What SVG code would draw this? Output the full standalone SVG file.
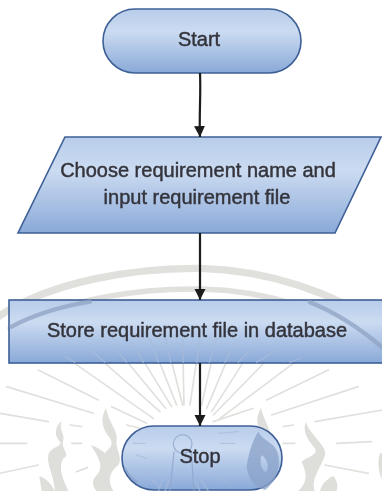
<svg xmlns="http://www.w3.org/2000/svg" width="382" height="491" viewBox="0 0 382 491">
<style>
.node{fill:url(#g);stroke:#3d5f96;stroke-width:1.6}
.t{font-family:"Liberation Sans",Arial,sans-serif;font-size:20px;fill:#34343c;text-anchor:middle;stroke:#34343c;stroke-width:.45}
.c{stroke:#1c1c1c;stroke-width:2.2;fill:none;marker-end:url(#a)}
.w{fill:none;stroke:#e0e0dd;stroke-linecap:round}
.f{fill:#dededb;stroke:none}
</style>
<defs>
<linearGradient id="g" x1="0" y1="0" x2="0" y2="1">
<stop offset="0" stop-color="#b8cdea"/><stop offset=".35" stop-color="#cbdbf1"/><stop offset="1" stop-color="#8aa9d8"/>
</linearGradient>
<marker id="a" markerUnits="userSpaceOnUse" markerWidth="14" markerHeight="12" refX="11" refY="5.5" orient="auto">
<path d="M0 0L11 5.5L0 11z" fill="#1c1c1c"/>
</marker>
<filter id="b" x="-5%" y="-5%" width="110%" height="110%"><feGaussianBlur stdDeviation=".5"/></filter>
</defs>
<rect width="382" height="491" fill="#fff"/>
<g filter="url(#b)">
<g id="watermark-back" class="w" transform="translate(0 245) scale(.3333)">
<path d="M-5 215C150 110 400 68 600 70C800 75 1000 140 1160 250" stroke-width="22"/>
<path d="M30 250C200 160 420 130 600 132C800 135 1000 200 1160 310" stroke-width="16"/>
<g stroke-width="5">
<path d="M115 375L295 465M20 425L280 505M0 505L145 530M985 375L800 465M1075 425L815 510M1147 495L945 530M0 595L80 595M1010 595L1115 590M0 685L115 660M975 660L1105 685M335 485L440 535M380 540L420 550M760 490L640 530M850 545L880 540M210 540L245 545M215 595L245 595M850 595L885 595M230 680L262 668M195 335L460 520M270 315L480 500M340 300L497 490M395 290L515 485M450 280L530 480M497 280L548 480M548 280L552 480M600 280L570 480M650 280L605 480M705 290L620 490M760 305L635 500M830 315L640 510M900 340L660 520"/>
</g>
</g>
<g id="flames" class="f" transform="translate(0 390) scale(.3333)">
<path d="M185 92C160 115 165 140 180 155C190 170 150 170 145 195C140 225 160 250 165 303L205 303C185 260 175 230 190 205C215 195 180 175 190 150C195 130 175 120 185 92Z"/>
<path d="M118 258C140 265 155 285 165 303L125 303Z"/>
<path d="M318 55C300 85 305 115 330 145C345 170 320 180 315 190C300 175 285 170 272 165C295 200 310 225 295 250C280 265 270 280 290 303L340 303C320 270 330 245 355 225C370 205 345 175 350 150C355 125 325 95 318 55Z"/>
<path d="M783 55C765 85 770 110 790 130L810 130C805 105 790 85 783 55Z"/>
<path d="M918 95C905 125 925 150 945 175C955 195 925 200 905 215C915 240 930 270 895 303L945 303C930 270 965 230 975 195C985 170 925 130 918 95Z"/>
<path d="M1000 258C975 270 965 285 960 303L1010 303C1015 285 1010 270 1000 258Z"/>
<path d="M1140 190C1132 210 1135 240 1145 270L1147 190Z"/>
</g>
<g id="start"><rect class="node" x="103" y="9" width="198" height="64" rx="32"/><text class="t" x="199" y="46">Start</text></g>
<g id="input"><path class="node" d="M65 137H381L335 233H18z"/><text class="t" x="198" y="177">Choose requirement name and</text><text class="t" x="197" y="204">input requirement file</text></g>
<g id="store"><rect class="node" x="9" y="300" width="376" height="63"/></g>
<g id="stop"><rect class="node" x="122" y="426" width="160" height="64" rx="32"/></g>
<g id="watermark-front" class="w" transform="translate(0 245) scale(.3333)" opacity=".75">
<path d="M35 245C100 210 180 185 270 170" stroke="#8fa3c4" stroke-width="13"/>
<path d="M930 172C1000 200 1080 250 1150 310" stroke="#8fa3c4" stroke-width="13"/>
<g stroke="#a9bcdb" stroke-width="4">
<path d="M195 335L225 352M270 315L315 352M340 300L380 352M395 290L430 352M450 280L475 352M497 280L512 352M548 280L550 352M600 280L590 352M650 280L628 352M705 290L675 352M760 305L715 352M830 315L770 352M900 340L870 352"/>
<path d="M400 595L435 595M410 630L440 640M420 670L455 690M450 700L480 725M490 700L475 738M510 700L495 738M660 595L705 595M655 565L715 560M640 680L675 710M600 700L625 738M580 700L600 738"/>
</g>
<circle cx="548" cy="597" r="28" stroke="#8fa6cc" stroke-width="4"/>
<path d="M522 620L510 738M574 620L582 738" stroke="#8fa6cc" stroke-width="4"/>
<path d="M775 560C755 590 745 630 740 665C745 700 760 725 795 735C830 710 845 660 832 620C822 590 790 590 775 560ZM785 630C778 650 782 672 798 682C808 665 805 645 785 630Z" fill="#8aa2c9" fill-rule="evenodd" stroke="none"/>
<path d="M375 670C385 690 395 700 410 710" stroke="#8aa2c9" stroke-width="6"/>
</g>
<g id="connectors">
<path class="c" d="M200 73C201 95 199 115 200 137"/>
<path class="c" d="M200 233V300"/>
<path class="c" d="M200 363V426"/>
</g>
<g id="labels">
<text class="t" x="197" y="337">Store requirement file in database</text>
<text class="t" x="200" y="463">Stop</text>
</g>
</g>
</svg>
